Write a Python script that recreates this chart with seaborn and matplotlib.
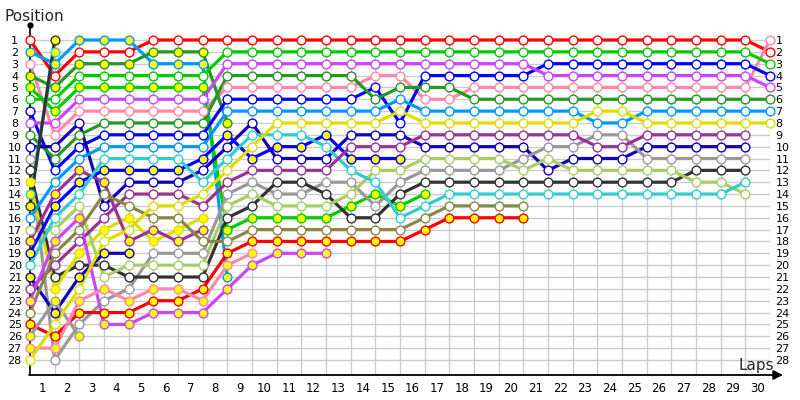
import matplotlib
matplotlib.use("Agg")
import matplotlib.pyplot as plt
import seaborn as sns
import pandas as pd

# ---------------- data: position at each column (0 = grid, 1..30 = laps) ----------------
red_w       = [1,4,2,2,2,1,1,1,1,1,1,1,1,1,1,1,1,1,1,1,1,1,1,1,1,1,1,1,1,1,2]
lightblue_y = [2,3,1,1,1,3,3,3,21]
pink_w      = [3,9,7,7,7,7,7,7,5,5,5,5,5,5,4,4,6,6,5,5,5,5,5,5,5,5,5,5,5,5,1]
dkgreen_y   = [4,5,3,3,3,2,2,2,8]
green_y     = [5,7,5,5,5,5,5,5,17,16,16,16,16,15,14,15,14]
green_w     = [6,6,4,4,4,4,4,4,2,2,2,2,2,2,2,2,2,2,2,2,2,2,2,2,2,2,2,2,2,2,3]
blue_w      = [7,12,10,9,9,9,9,9,6,6,6,6,6,6,5,8,4,4,4,4,4,3,3,3,3,3,3,3,3,3,4]
violet_w    = [8,8,6,6,6,6,6,6,3,3,3,3,3,3,3,3,3,3,3,3,3,4,4,4,4,4,4,4,4,4,5]
dkgreen_w   = [9,11,9,8,8,8,8,8,4,4,4,4,4,4,6,5,5,5,6,6,6,6,6,6,6,6,6,6,6,6,6]
dkblue_w    = [10,10,8,15,13,13,13,12,10,8,11,11,11,9,9,9,10,10,10,10,10,12,11,11,11,10,10,10,10,10]
gray_w      = [11,28,25,23,22,19,19,19,14,13,14,14,13,13,15,13,12,12,12,12,11,10,10,9,9,11,11,11,11,11]
black_w     = [12,21,20,20,21,21,21,21,16,15,13,13,14,16,16,14,13,13,13,13,13,13,13,13,13,13,13,12,12,12]
yellow_y    = [13,22,19,17,16,18,17,16]
cyan_y      = [14,2]
black_y     = [15,1]
lightblue_w = [16,13,11,10,10,10,10,10,7,7,7,7,7,7,7,6,7,7,7,7,7,7,7,8,8,7,7,7,7,7,7]
ltgreen_w   = [17,17,15,21,20,20,20,20,15,14,15,15,15,14,12,12,11,11,11,11,12,11,12,12,12,12,12,13,13,14]
purple_y    = [18,14,12,13,18,17,18,17]
blue_y      = [19,15,13,12,12,12,12,11,9,11,10,10,9,11,11,11]
cyan_w      = [20,16,14,11,11,11,11,13,11,9,9,9,10,12,13,16,15,14,14,14,14,14,14,14,14,14,14,14,14,13]
dkblue_y    = [21,24,21,19,19]
purple_w    = [22,20,18,16,14,14,14,15,13,12,12,12,12,10,10,10,9,9,9,9,9,9,9,10,10,9,9,9,9,9]
violet_y    = [23,18,16,25,25,24,24,24,22,20,19,19,19]
olive_w     = [24,19,17,14,15,16,16,18,18,17,17,17,17,17,17,17,16,15,15,15,15]
red_y       = [25,26,24,24,24,23,23,22,19,18,18,18,18,18,18,18,17,16,16,16,16]
gray_y      = [26,23,26]
pink_y      = [27,27,23,22,23,22,22,23,20,19]
yellow_w    = [28,25,22,18,17,15,15,14,12,10,8,8,8,8,8,7,8,8,8,8,8,8,8,7,7,8,8,8,8,8,8]

positions = list(range(1, 29))
lap_labels = list(range(1, 31))

# colours
RED, LBLUE, PINK, DKGREEN = "#ff0000", "#0099ff", "#ff88aa", "#229922"
GREEN, BLUE, VIOLET, DKBLUE = "#00cc00", "#0000ff", "#cc44ff", "#1100bb"
GRAY, BLACK, YELLOW, CYAN = "#999999", "#333333", "#dddd00", "#33cccc"
LTGREEN, PURPLE, OLIVE = "#aacc66", "#993399", "#888844"
FILL_Y, FILL_W = "#ffff00", "#ffffff"

drivers = [
    (red_w, RED, FILL_W), (lightblue_y, LBLUE, FILL_Y), (pink_w, PINK, FILL_W),
    (dkgreen_y, DKGREEN, FILL_Y), (green_y, GREEN, FILL_Y), (green_w, GREEN, FILL_W),
    (blue_w, BLUE, FILL_W), (violet_w, VIOLET, FILL_W), (dkgreen_w, DKGREEN, FILL_W),
    (dkblue_w, DKBLUE, FILL_W), (gray_w, GRAY, FILL_W), (black_w, BLACK, FILL_W),
    (yellow_y, YELLOW, FILL_Y), (cyan_y, CYAN, FILL_Y), (black_y, BLACK, FILL_Y),
    (lightblue_w, LBLUE, FILL_W), (ltgreen_w, LTGREEN, FILL_W), (purple_y, PURPLE, FILL_Y),
    (blue_y, BLUE, FILL_Y), (cyan_w, CYAN, FILL_W), (dkblue_y, DKBLUE, FILL_Y),
    (purple_w, PURPLE, FILL_W), (violet_y, VIOLET, FILL_Y), (olive_w, OLIVE, FILL_W),
    (red_y, RED, FILL_Y), (gray_y, GRAY, FILL_Y), (pink_y, PINK, FILL_Y),
    (yellow_w, YELLOW, FILL_W),
]

# ---------------- figure ----------------
sns.set_theme(style="white")
plt.rcParams["font.family"] = ["DejaVu Sans"]

fig = plt.figure(figsize=(8, 4), dpi=100)
ax = fig.add_axes([30 / 800, 25 / 400, 740 / 800, 350 / 400])

Y_TOP, Y_BOT = -0.266, 29.27
ax.set_xlim(0, 30)
ax.set_ylim(Y_BOT, Y_TOP)

# grid
ax.hlines(positions, 0, 30, color="#cccccc", lw=1, zorder=0)
ax.vlines(lap_labels[:-1], 1, Y_BOT, color="#cccccc", lw=1, zorder=0)
ax.vlines(lap_labels[-1], 1, 28, color="#cccccc", lw=1, zorder=0)

frames = []
for i, (pos, col, fill) in enumerate(drivers):
    frames.append(pd.DataFrame({"lap": list(range(len(pos))), "pos": pos, "drv": i}))

for i, (pos, col, fill) in enumerate(drivers):
    d = frames[i]
    sns.lineplot(data=d, x="lap", y="pos", color=col, lw=2.3, ax=ax,
                 estimator=None, sort=False, zorder=2)
for i, (pos, col, fill) in enumerate(drivers):
    d = frames[i]
    sns.scatterplot(data=d, x="lap", y="pos", color=fill, edgecolor=col,
                    s=40, linewidth=1.0, ax=ax, zorder=3, clip_on=False)

ax.set_xlabel("")
ax.set_ylabel("")

# spines / axes
for s in ["top", "right", "bottom"]:
    ax.spines[s].set_visible(False)
ax.spines["left"].set_color("black")
ax.spines["left"].set_linewidth(1.2)
ax.plot([0], [Y_TOP], marker="o", ms=3.5, color="black", clip_on=False, zorder=5)
ax.annotate("", xy=(783, 25), xytext=(29, 25), xycoords="figure pixels",
            textcoords="figure pixels",
            arrowprops=dict(arrowstyle="-|>", color="black", lw=1.3,
                            mutation_scale=14, shrinkA=0, shrinkB=0))

ax.set_xticks([n - 0.5 for n in lap_labels])
ax.set_xticklabels([str(n) for n in lap_labels])
ax.tick_params(axis="x", length=0, pad=5, labelsize=8.5, colors="black")
ax.set_yticks(positions)
ax.set_yticklabels([str(p) for p in positions])
ax.tick_params(axis="y", length=0, pad=11, labelsize=8, colors="black")
for t in ax.get_yticklabels():
    t.set_horizontalalignment("center")

ax2 = ax.twinx()
ax2.set_ylim(Y_BOT, Y_TOP)
ax2.set_yticks(positions)
ax2.set_yticklabels([str(p) for p in positions])
ax2.tick_params(axis="y", length=0, pad=4, labelsize=8, colors="black")
for s in ax2.spines.values():
    s.set_visible(False)
ax2.grid(False)

fig.text(5 / 800, 1 - 21 / 400, "Position", fontsize=11, ha="left", va="baseline")
fig.text(774 / 800, 30 / 400, "Laps", fontsize=11, ha="right", va="baseline")

fig.savefig("out.png", dpi=100)
